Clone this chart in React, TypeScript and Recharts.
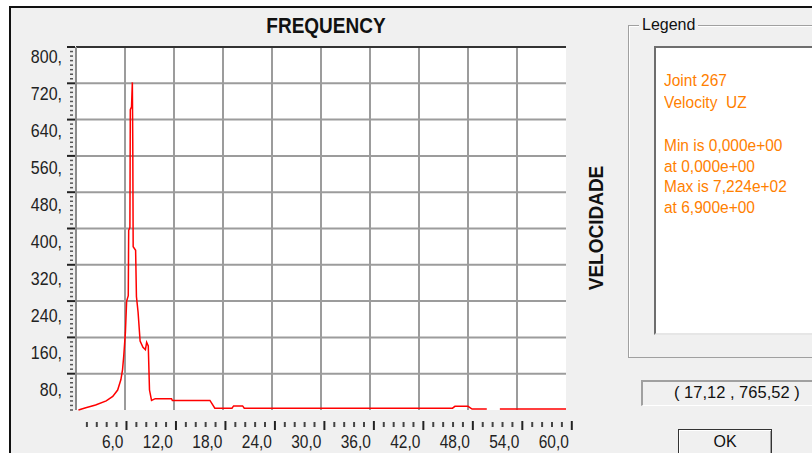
import React from 'react';
import { LineChart, Line, XAxis, YAxis, CartesianGrid, ReferenceLine } from 'recharts';

// frequency (Hz) and velocity UZ
const freqHz = [
  0.3, 1.2, 2.4, 3.7, 4.5, 5.1, 5.5, 5.7, 5.85, 6.05, 6.2, 6.4, 6.45, 6.6, 6.65, 6.8, 6.9, 6.95, 7.0, 7.3,
  7.4, 7.6, 7.85, 8.2, 8.5, 8.65, 8.85, 9.0, 9.25, 9.7, 11.7, 11.8, 16.4, 17.0, 19.1, 19.3, 20.4, 20.6,
  46.1, 46.4, 48.0, 48.5, 50.3, 51.1, 51.9, 60.0,
];
const velocity = [
  0, 5, 11, 20, 30, 44, 67, 89, 120, 171, 240, 252, 396, 402, 662, 668, 722, 590, 360, 352,
  250, 216, 152, 138, 133, 149, 141, 44, 21, 25, 25, 21, 21, 4, 4, 9, 9, 4,
  4, 8, 8, 2, 2, null, 2, 2,
];

const yLabels = [80, 160, 240, 320, 400, 480, 560, 640, 720, 800];
const xLabels = [6, 12, 18, 24, 30, 36, 42, 48, 54, 60];
const yGrid = [80, 160, 240, 320, 400, 480, 560, 640, 720];
const xGrid = [6, 12, 18, 24, 30, 36, 42, 48, 54];

const legendTop = ['Joint 267', 'Velocity  UZ'];
const legendBottom = ['Min is 0,000e+00', 'at 0,000e+00', 'Max is 7,224e+02', 'at 6,900e+00'];
const cursorText = '( 17,12 , 765,52 )';

const data = freqHz.map((f, i) => ({ f, v: velocity[i] }));

// minor ticks: every 10 on Y, every 1.2 on X
const yTicks = Array.from({ length: 81 }, (_, i) => i * 10);
const xTicks = Array.from({ length: 50 }, (_, i) => Math.round((i + 1) * 12) / 10);

const font = '"Liberation Sans", Arial, sans-serif';

const YTick = (props: any) => {
  const { x, y, payload } = props;
  const v = payload.value;
  if (!yLabels.includes(v)) {
    return <line x1={x - 6} x2={x - 3} y1={y} y2={y} stroke="#555" strokeWidth={1.5} />;
  }
  const drift = ((800 - v) / 720) * 6;
  return (
    <g>
      <line x1={x - 9} x2={x - 1} y1={y} y2={y} stroke="#222" strokeWidth={2} />
      <text
        transform={`translate(${x - 14},${y + 16 + drift}) scale(1,1.15)`}
        textAnchor="end"
        fontSize={16}
        fontFamily={font}
        fill="#222"
      >
        {v},
      </text>
    </g>
  );
};

const XTick = (props: any) => {
  const { x, y, payload } = props;
  const v = payload.value;
  const tx = x + 1 + v * 0.08;
  const major = xLabels.some((m) => Math.abs(m - v) < 0.01);
  if (!major) {
    return <line x1={tx} x2={tx} y1={y + 12} y2={y + 17} stroke="#444" strokeWidth={2} />;
  }
  return (
    <g>
      <line x1={tx} x2={tx} y1={y + 11} y2={y + 20} stroke="#222" strokeWidth={2} />
      <text
        transform={`translate(${tx - 3},${y + 38}) scale(1,1.15)`}
        textAnchor="end"
        fontSize={15.5}
        fontFamily={font}
        fill="#222"
      >
        {v.toFixed(1).replace('.', ',')}
      </text>
    </g>
  );
};

export default function App() {
  return (
    <div
      style={{
        position: 'absolute',
        left: 0,
        top: 0,
        width: 812,
        height: 453,
        overflow: 'hidden',
        background: '#fff',
        fontFamily: font,
      }}
    >
      <div
        style={{
          position: 'absolute',
          left: 9,
          top: 6,
          width: 820,
          height: 460,
          background: '#f0f0f0',
          borderTop: '2px solid #111',
          borderLeft: '2px solid #111',
        }}
      />

      <div style={{ position: 'absolute', left: 0, top: 0 }}>
        <LineChart width={580} height={453} data={data} margin={{ top: 47, right: 14, bottom: 0, left: 0 }}>
          <CartesianGrid
            fill="#fff"
            stroke="#9c9c9c"
            strokeWidth={2}
            horizontalValues={yGrid}
            verticalValues={xGrid}
          />
          <XAxis
            dataKey="f"
            type="number"
            domain={[0, 60]}
            ticks={xTicks}
            interval={0}
            height={43}
            tickSize={0}
            tickMargin={0}
            axisLine={false}
            tickLine={false}
            tick={(p: any) => <XTick {...p} />}
          />
          <YAxis
            type="number"
            domain={[0, 800]}
            ticks={yTicks}
            interval={0}
            width={76}
            tickSize={0}
            tickMargin={0}
            axisLine={{ stroke: '#8c8c8c', strokeWidth: 2 }}
            tickLine={false}
            tick={(p: any) => <YTick {...p} />}
          />
          <ReferenceLine y={800} stroke="#333" strokeWidth={2} />
          <Line
            type="linear"
            dataKey="v"
            stroke="#ff0000"
            strokeWidth={1.5}
            dot={false}
            activeDot={false}
            isAnimationActive={false}
          />
        </LineChart>
      </div>

      <div
        style={{
          position: 'absolute',
          left: 226,
          top: 16,
          width: 200,
          textAlign: 'center',
          fontSize: 19,
          lineHeight: '20px',
          fontWeight: 'bold',
          color: '#111',
          transform: 'scaleY(1.12)',
        }}
      >
        FREQUENCY
      </div>

      <div
        style={{
          position: 'absolute',
          left: 527,
          top: 218,
          width: 140,
          height: 20,
          textAlign: 'center',
          fontSize: 19,
          lineHeight: '20px',
          fontWeight: 'bold',
          color: '#111',
          transform: 'rotate(-90deg) scaleY(1.05)',
        }}
      >
        VELOCIDADE
      </div>

      {/* legend group box */}
      <div
        style={{
          position: 'absolute',
          left: 628,
          top: 25,
          width: 300,
          height: 331,
          border: '1px solid #a0a0a0',
          boxShadow: 'inset 1px 1px 0 #fff',
        }}
      />
      <div
        style={{
          position: 'absolute',
          left: 639,
          top: 16,
          padding: '0 3px',
          background: '#f0f0f0',
          fontSize: 16,
          lineHeight: '18px',
          color: '#111',
        }}
      >
        Legend
      </div>
      <div
        style={{
          position: 'absolute',
          left: 654,
          top: 46,
          width: 300,
          height: 285,
          background: '#fff',
          borderTop: '2px solid #6e6e6e',
          borderLeft: '2px solid #6e6e6e',
          borderBottom: '2px solid #e6e6e6',
        }}
      />
      <div
        style={{
          position: 'absolute',
          left: 664,
          top: 69,
          fontSize: 15.5,
          lineHeight: '20px',
          color: '#ff8000',
          whiteSpace: 'pre',
          transform: 'scaleY(1.1)',
          transformOrigin: 'top left',
        }}
      >
        {legendTop.join('\n')}
      </div>
      <div
        style={{
          position: 'absolute',
          left: 664,
          top: 136,
          fontSize: 15.5,
          lineHeight: '18.5px',
          color: '#ff8000',
          whiteSpace: 'pre',
          transform: 'scaleY(1.1)',
          transformOrigin: 'top left',
        }}
      >
        {legendBottom.join('\n')}
      </div>

      {/* cursor readout */}
      <div
        style={{
          position: 'absolute',
          left: 641,
          top: 380,
          width: 300,
          height: 23,
          borderTop: '2px solid #a0a0a0',
          borderLeft: '2px solid #a0a0a0',
          borderBottom: '1px solid #fff',
        }}
      />
      <div
        style={{
          position: 'absolute',
          left: 674,
          top: 382,
          fontSize: 16.5,
          lineHeight: '20px',
          color: '#111',
          whiteSpace: 'pre',
        }}
      >
        {cursorText}
      </div>

      {/* OK button */}
      <div
        style={{
          position: 'absolute',
          left: 678,
          top: 429,
          width: 92,
          height: 40,
          border: '1px solid #333',
          background: '#f0f0f0',
          boxShadow: 'inset 1px 1px 0 #fff, inset -1px -1px 0 #a0a0a0',
          textAlign: 'center',
          fontSize: 16,
          lineHeight: '20px',
          paddingTop: 2,
          color: '#111',
        }}
      >
        OK
      </div>
    </div>
  );
}
